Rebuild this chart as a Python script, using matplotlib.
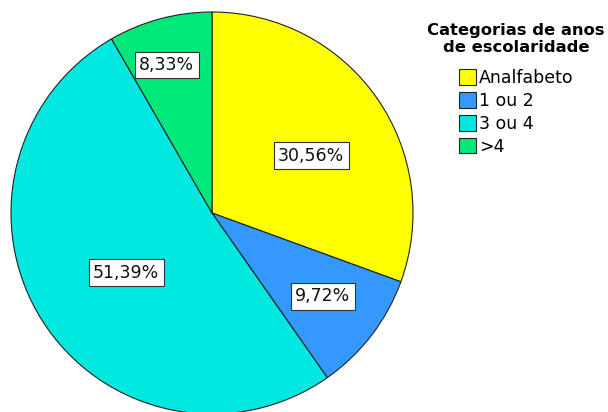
from matplotlib import pyplot as plt
import numpy as np

# dados do gráfico
categorias = ["Analfabeto", "1 ou 2", "3 ou 4", ">4"]
percentagens = [30.56, 9.72, 51.39, 8.33]
rotulos = ["30,56%", "9,72%", "51,39%", "8,33%"]
cores = ["#FFFF00", "#3399FF", "#00E8E0", "#00E87A"]
titulo_legenda = "Categorias de anos\nde escolaridade"

# posição de cada rótulo: fração do raio e desvio (graus) em relação ao meio da fatia
dist_rotulos = [0.57, 0.69, 0.52, 0.77]
desvio_rotulos = [-5.0, 0.5, 2.3, 2.0]

W, H = 608, 412
fig = plt.figure(figsize=(W/100, H/100), dpi=100)
ax = fig.add_axes([11/W, (H-414)/H, 402/W, 402/H])

wedges, _ = ax.pie(percentagens, colors=cores, startangle=90, counterclock=False,
                   radius=1, wedgeprops=dict(edgecolor="#222222", linewidth=0.8))
ax.set_xlim(-1, 1)
ax.set_ylim(-1, 1)
ax.set_aspect("equal")
ax.axis("off")

for w, r, d, dv in zip(wedges, rotulos, dist_rotulos, desvio_rotulos):
    ang = np.deg2rad((w.theta1 + w.theta2) / 2 + dv)
    ax.text(d*np.cos(ang), d*np.sin(ang), r, ha="center", va="center",
            fontsize=12.5, color="#111111",
            bbox=dict(boxstyle="square,pad=0.25", fc="white", ec="#333333", lw=0.8))

leg = fig.legend(wedges, categorias, title=titulo_legenda, loc="upper center",
                 bbox_to_anchor=(516/W, 1 - 14/H), frameon=False,
                 fontsize=12.5, title_fontproperties={"weight": "bold", "size": 11.8},
                 handlelength=1.0, handleheight=1.0, handletextpad=0.15,
                 labelspacing=0.28, borderpad=0, alignment="center")
leg.get_title().set_multialignment("center")
leg.get_title().set_linespacing(1.2)
leg._legend_box.sep = 10
for p in leg.get_patches():
    p.set_edgecolor("#222222")
    p.set_linewidth(0.8)

fig.savefig("out.png", dpi=100)
